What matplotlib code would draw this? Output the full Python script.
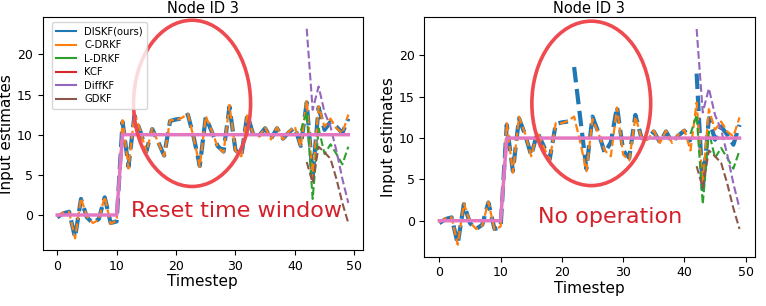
import numpy as np
import matplotlib.pyplot as plt
from matplotlib.lines import Line2D
from matplotlib.patches import Ellipse

t = np.arange(50)

true_input = [0] * 11 + [10] * 39

c_drkf = [-0.2, 0.3, 0.4, -2.9, 2.1, -0.2, -1.0, -0.6, 2.3, -1.1,
          -0.7, 11.8, 5.8, 12.6, 10.5, 7.8, 10.8, 9.0, 7.3, 11.8,
          11.8, 12.1, 12.6, 9.5, 6.0, 12.3, 10.5, 8.5, 7.8, 13.7,
          8.0, 7.3, 12.6, 10.0, 9.8, 10.9, 9.4, 10.9, 9.4, 10.4,
          11.0, 8.5, 14.3, 4.5, 13.5, 11.0, 12.0, 10.8, 10.2, 12.5]

diskf_reset = [-0.3, 0.2, 0.4, -2.8, 2.0, -0.3, -1.0, -0.5, 2.2, -1.0,
               -0.8, 11.6, 6.0, 12.4, 10.4, 7.9, 10.7, 9.1, 7.4, 11.7,
               11.9, 12.0, 12.5, 9.6, 6.1, 12.2, 10.4, 8.6, 7.9, 13.5,
               8.1, 7.4, 12.5, 10.0, 9.9, 10.8, 9.5, 10.8, 9.5, 10.3,
               10.9, 8.6, 14.0, 4.8, 13.4, 10.6, 11.6, 11.0, 10.2, 12.0]

# no-op run: estimate jumps at t=22 and t=42 (segments not joined)
diskf_noop = [-0.3, 0.2, 0.4, -2.8, 2.0, -0.3, -1.0, -0.5, 2.2, -1.0,
              -0.8, 11.6, 6.0, 12.4, 10.4, 7.9, 10.7, 9.1, 7.4, 11.7,
              11.9, 12.0, 18.6, 12.4, 6.3, 12.6, 10.6, 8.2, 9.5, 13.8,
              8.5, 7.6, 12.8, 10.0, 9.9, 10.8, 9.5, 10.8, 9.5, 10.3,
              10.9, 9.5, 17.8, 3.8, 12.4, 9.8, 11.4, 10.4, 9.2, 11.6]
noop_breaks = [22, 42]

t_tail = np.arange(41, 50)
l_drkf = [10.5, 12.8, 2.0, 10.8, 7.6, 8.8, 7.6, 6.3, 8.5]
t_tail2 = np.arange(42, 50)
diffkf = [23.2, 13.1, 16.0, 12.8, 11.0, 8.0, 4.5, 1.5]
gdkf = [6.6, 4.0, 8.5, 7.8, 7.0, 4.5, 1.5, -1.0]

names = ["DISKF(ours)", "C-DRKF", "L-DRKF", "KCF", "DiffKF", "GDKF"]
colors = ["#1f77b4", "#ff7f0e", "#2ca02c", "#d62728", "#9467bd", "#8c564b"]

fig = plt.figure(figsize=(7.66, 3.06), dpi=100)
ax1 = fig.add_axes([0.0557, 0.183, 0.418, 0.760])
ax2 = fig.add_axes([0.554, 0.161, 0.431, 0.782])


def draw(ax, diskf, breaks, ell_xy, ell_w, ell_h, label, label_xy):
    ax.plot(t, true_input, color=colors[3], lw=1.2, zorder=1)
    edges = [0] + breaks + [len(t)]
    for a, b in zip(edges[:-1], edges[1:]):
        ax.plot(t[a:b], diskf[a:b], color=colors[0], lw=3, ls="--", zorder=2)
    ax.plot(t, c_drkf, color=colors[1], lw=1.6, ls="--", zorder=3)
    ax.plot(t_tail, l_drkf, color=colors[2], lw=1.5, ls="--", zorder=3)
    ax.plot(t_tail2, diffkf, color=colors[4], lw=1.5, ls="--", zorder=3)
    ax.plot(t_tail2, gdkf, color=colors[5], lw=1.5, ls="--", zorder=3)
    ax.plot(t, true_input, color="#e377c2", lw=2.5, zorder=4)
    ax.add_patch(Ellipse(ell_xy, ell_w, ell_h, fill=False,
                         edgecolor="#ee4a50", lw=2.6, zorder=5))
    ax.text(label_xy[0], label_xy[1], label, color="#d4202a",
            fontsize=16, zorder=6)
    ax.set_title("Node ID 3", fontsize=10.5, pad=3)
    ax.set_xlabel("Timestep", fontsize=11, labelpad=1)
    ax.set_ylabel("Input estimates", fontsize=11, labelpad=2)
    ax.set_xticks([0, 10, 20, 30, 40, 50])
    ax.set_yticks([0, 5, 10, 15, 20])
    ax.tick_params(labelsize=9)
    ax.set_xlim(-2.45, 51.45)
    ax.set_ylim(-4.36, 24.6)


draw(ax1, diskf_reset, [], (22.7, 13.9), 19.7, 20.7, "Reset time window", (12.4, -0.25))
draw(ax2, diskf_noop, noop_breaks, (24.8, 14.2), 19.4, 19.9, "No operation", (16.1, -0.24))

handles = [Line2D([0], [0], color=c, lw=1.5) for c in colors]
ax1.legend(handles, names, loc="upper left", bbox_to_anchor=(0.028, 0.98),
           borderaxespad=0, fontsize=7.2, handlelength=2.0, borderpad=0.45,
           labelspacing=0.35, handletextpad=0.8)

fig.savefig("out.png", dpi=100)
